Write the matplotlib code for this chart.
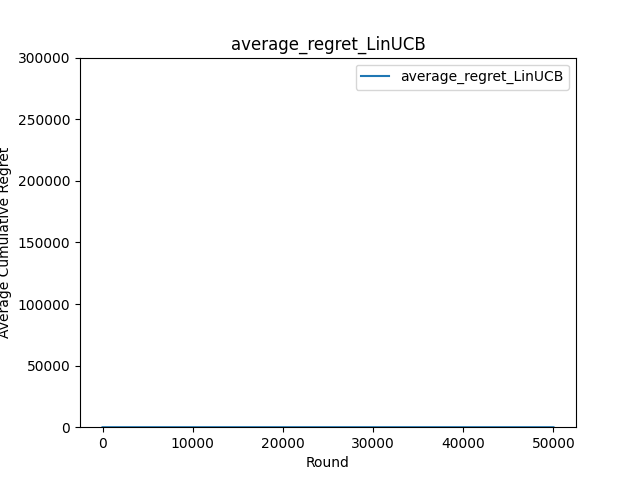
import matplotlib
matplotlib.use('Agg')
import matplotlib.pyplot as plt

# values are tiny on this scale, read as roughly zero
rounds = [0, 5000, 10000, 20000, 30000, 40000, 50000]
average_regret = [0.9, 0.5, 0.35, 0.25, 0.2, 0.17, 0.15]

fig, ax = plt.subplots(figsize=(6.4, 4.8), dpi=100)
ax.plot(rounds, average_regret, label='average_regret_LinUCB')
ax.set_ylim(0, 300000)
ax.set_title('average_regret_LinUCB')
ax.set_xlabel('Round')
ax.set_ylabel('Average Cumulative Regret')
ax.legend()
plt.savefig('out.png', dpi=100)
